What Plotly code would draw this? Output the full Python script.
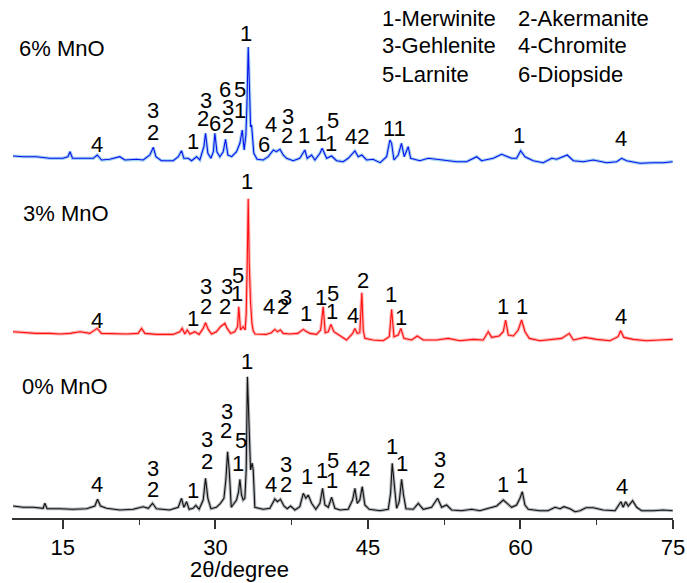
import plotly.graph_objects as go

# ---------------- data (2theta in degrees, relative intensity in a.u.) ----------------
theta0 = [10.1, 11.1, 12.1, 13.06, 13.23, 13.45, 14.7, 16.0, 17.33, 18.15,
          18.41, 18.7, 19.3, 20.6, 21.9, 22.9, 23.4, 23.82, 24.2, 25.5,
          26.35, 26.67, 26.9, 27.17, 27.42, 27.8, 28.08, 28.4, 28.8, 29.03,
          29.26, 29.56, 30.1, 30.5, 30.84, 31.03, 31.2, 31.36, 31.56, 31.8,
          32.08, 32.28, 32.41, 32.57, 32.73, 32.9, 33.03, 33.15, 33.36, 33.46,
          33.62, 33.72, 33.88, 34.7, 35.36, 35.85, 36.1, 36.4, 36.74, 37.06,
          37.4, 37.82, 38.3, 38.64, 38.9, 39.13, 39.46, 39.88, 40.28, 40.54,
          40.77, 41.1, 41.43, 41.75, 42.25, 43.06, 43.49, 43.72, 43.95, 44.2,
          44.44, 44.7, 45.13, 46.18, 47.0, 47.23, 47.39, 47.58, 47.82, 48.08,
          48.31, 48.5, 48.74, 49.46, 49.95, 50.44, 51.26, 51.85, 52.25, 52.74,
          53.23, 54.2, 55.2, 56.0, 56.83, 57.66, 58.31, 58.64, 59.13, 59.62,
          59.95, 60.18, 60.44, 60.77, 61.9, 62.7, 63.4, 63.9, 64.28, 64.87,
          65.36, 65.85, 66.44, 67.16, 68.14, 69.3, 69.88, 70.1, 70.34, 70.6,
          71.03, 71.43, 71.92, 73.06, 74.04, 74.97]
int0 = [4, 2.7, 2.7, 1.7, 6.7, 1.3, 1.3, 0.7, 1.3, 4,
        10.7, 4, 1.7, 0, 0.7, 3.3, 1.7, 6.7, 1.3, 0,
        2.7, 11.7, 2.7, 8.3, 0.7, 1.7, 4.7, 0.7, 10, 31.7,
        11.7, 1.3, 2.7, 6.7, 11.7, 30, 58.3, 40, 2.7, 6.7,
        10, 18.3, 30.7, 15, 10, 11.7, 40, 133.3, 60, 40,
        47, 40, 2.7, 0.7, 1.7, 11, 8.3, 10.7, 4, 1.3,
        4, 0, 3.3, 16.7, 11.7, 15, 6.7, 0.7, 6.7, 21.7,
        5, 2.7, 12.7, 1.7, 0, 0.7, 10, 21.7, 6.7, 10,
        23.3, 5, 0.7, -0.7, 0.7, 16.7, 46.7, 23.3, 1.7, 8.3,
        30.7, 15, 1.3, 0.7, 6.7, 0.7, 2.7, 11.7, 2.7, 5,
        0, -0.7, 0.7, -0.7, 1.7, 4, 10, 7.3, 2.7, 5,
        11.7, 18.3, 5, 0.7, -0.7, -0.7, 2.7, 1.3, 3.3, 1.3,
        -1.7, -0.7, 2.3, 2.3, 0, -0.7, 8.3, 2.7, 8.3, 4,
        9.3, 2.7, -0.7, -0.7, 0, -0.7]

theta3 = [10.1, 11.1, 12.4, 13.7, 14.7, 15.7, 16.7, 17.65, 18.38, 18.8,
          19.95, 21.26, 22.4, 22.74, 23.07, 24.2, 25.85, 26.5, 26.73, 27.0,
          27.23, 27.5, 27.98, 28.4, 28.8, 29.03, 29.3, 29.62, 30.1, 30.5,
          30.93, 31.16, 31.5, 31.9, 32.18, 32.3, 32.47, 32.73, 32.93, 33.03,
          33.13, 33.23, 33.33, 33.46, 33.6, 33.72, 33.9, 35.0, 35.5, 35.85,
          36.1, 36.4, 36.67, 37.3, 38.1, 38.64, 38.97, 39.3, 39.95, 40.35,
          40.6, 40.8, 41.1, 41.36, 41.65, 42.25, 42.9, 43.5, 43.72, 43.95,
          44.2, 44.4, 44.54, 44.7, 45.5, 46.5, 47.1, 47.33, 47.56, 47.98,
          48.24, 48.54, 49.3, 49.85, 50.44, 51.75, 52.9, 54.05, 55.36, 56.34,
          56.83, 57.17, 57.9, 58.31, 58.54, 58.8, 59.3, 59.78, 60.11, 60.44,
          60.87, 61.92, 63.23, 64.05, 64.8, 65.2, 66.34, 67.5, 68.8, 69.6,
          69.85, 70.17, 71.1, 72.4, 73.7, 74.97]
int3 = [10, 9, 8.3, 8.3, 7.7, 8.3, 10, 8.3, 13.3, 8.3,
        7.7, 7.7, 8.3, 13.3, 8.3, 7.3, 7.3, 10, 13.3, 7.7,
        11.7, 7.7, 10, 7.3, 13.3, 19, 12.3, 7.7, 10, 15,
        18.3, 13.3, 8.3, 10, 15, 35, 11.7, 15, 11.7, 28,
        78, 143, 78, 38, 18, 11, 7.7, 7.3, 9, 12.3,
        10, 11.7, 8.3, 7.7, 8.3, 12.3, 10, 8.3, 7.3, 11.7,
        35, 9, 10, 17.3, 10, 6, 1.7, 8.3, 13.3, 8.3,
        9, 49, 11.7, 3.3, 1.7, 1, 5, 32.3, 5, 6.7,
        13.3, 3.3, 1.7, 5.7, 1.7, 1.7, 3.3, 1, 2.3, 1.7,
        10, 4.3, 5.7, 10, 21.7, 6.7, 5.7, 11.7, 21.7, 10,
        3.3, 1, 2.3, 3.3, 8.3, 1.7, 4.3, 2.3, 1, 5,
        11, 4.3, 2.3, 1, 1.7, 2.3]

theta6 = [10.1, 11.1, 12.4, 13.7, 15.0, 15.5, 15.7, 15.95, 17.0, 18.0,
          18.38, 18.8, 19.6, 20.6, 21.1, 22.25, 22.9, 23.56, 23.9, 24.15,
          24.7, 25.85, 26.35, 26.67, 26.9, 27.33, 27.66, 28.15, 28.47, 28.87,
          29.03, 29.26, 29.56, 29.8, 29.95, 30.15, 30.44, 30.77, 31.0, 31.23,
          31.6, 32.08, 32.41, 32.64, 32.83, 33.0, 33.1, 33.23, 33.36, 33.46,
          33.56, 33.78, 34.1, 34.7, 35.2, 35.7, 36.0, 36.35, 36.67, 37.0,
          37.65, 38.3, 38.8, 39.03, 39.46, 39.79, 40.28, 40.5, 40.94, 41.43,
          41.92, 42.57, 43.06, 43.72, 44.05, 44.4, 44.87, 45.5, 46.2, 46.84,
          47.16, 47.33, 47.56, 47.98, 48.3, 48.57, 48.96, 49.2, 50.1, 50.93,
          51.75, 52.74, 53.72, 54.7, 55.7, 56.18, 57.33, 58.15, 59.13, 59.62,
          60.02, 60.44, 61.26, 62.24, 63.07, 63.56, 64.6, 65.2, 66.18, 67.16,
          68.48, 69.46, 69.95, 70.44, 71.75, 73.06, 74.04, 74.97]
int6 = [9, 8.3, 8.3, 6.7, 6.7, 8.3, 13.3, 6.7, 6.7, 6.7,
        10, 5, 5.7, 8.3, 5, 5.7, 5, 10, 17.7, 8.3,
        4.3, 4.3, 8.3, 14.3, 6.7, 6.7, 4.3, 8.3, 5, 18.3,
        31.7, 11.7, 6.7, 13.3, 31.7, 13.3, 8.3, 13.3, 25.7, 10,
        8.3, 13.3, 21.7, 35, 15, 30, 60, 118, 75, 38,
        40, 11.7, 5.7, 5, 8.3, 15, 13.3, 15.7, 10, 6.7,
        4.3, 6.7, 15, 6.7, 10, 5, 11.7, 16.7, 6.7, 9,
        4.3, 3.3, 6.7, 14, 8.3, 10, 5, 5.7, 2.3, 8.3,
        25, 21.7, 5, 10, 21.7, 8.3, 18.3, 6.7, 4.3, 6.7,
        5.7, 4.3, 3.3, 3.3, 8.3, 4.3, 6.7, 10.7, 6.7, 6.7,
        14.3, 8.3, 4.3, 2.3, 6.7, 5.7, 10, 4.3, 3.3, 5,
        2.3, 3.3, 6.7, 4.3, 1.7, 2.3, 2.3, 3.3]

sample_names = ["0% MnO", "3% MnO", "6% MnO"]
phase_legend = ["1-Merwinite", "2-Akermanite", "3-Gehlenite",
                "4-Chromite", "5-Larnite", "6-Diopside"]
x_ticks = [15, 30, 45, 60, 75]
x_title = "2θ/degree"

# ---------------- style / layout ----------------
offsets = {"0% MnO": 8, "3% MnO": 176.3, "6% MnO": 353}
core_colors = {"0% MnO": "#111111", "3% MnO": "#ff1010", "6% MnO": "#1010ee"}
halo_colors = {"0% MnO": "#b4b8bc", "3% MnO": "#ffb4b4", "6% MnO": "#9ed2f0"}
FONT = "Liberation Sans, Arial, Helvetica, sans-serif"
FS = 22

series = {"0% MnO": (theta0, int0), "3% MnO": (theta3, int3), "6% MnO": (theta6, int6)}

fig = go.Figure()
for name in ["0% MnO", "3% MnO", "6% MnO"]:
    th, it = series[name]
    yy = [v + offsets[name] for v in it]
    fig.add_trace(go.Scatter(x=th, y=yy, mode="lines", showlegend=False,
                             line=dict(color=halo_colors[name], width=3.2), hoverinfo="skip"))
    fig.add_trace(go.Scatter(x=th, y=yy, mode="lines", showlegend=False, name=name,
                             line=dict(color=core_colors[name], width=1.1)))

# peak labels: (text, 2theta, y)
peak_labels = [
    # 6% MnO
    ("1", 33.01, 484.7), ("6", 30.97, 428.7), ("5", 32.42, 428.7),
    ("3", 29.08, 418), ("2", 28.81, 399.7), ("6", 29.96, 394.7),
    ("3", 31.21, 410.3), ("2", 31.21, 393), ("1", 32.42, 408),
    ("3", 23.83, 408), ("2", 23.83, 385.3), ("4", 18.39, 374), ("1", 27.83, 376.3),
    ("4", 35.44, 394), ("6", 34.81, 374), ("3", 37.17, 402), ("2", 37.01, 383),
    ("1", 38.71, 383), ("1", 40.35, 384.7), ("5", 41.53, 398), ("1", 41.34, 374.7),
    ("42", 43.95, 381.3), ("11", 47.66, 389.7), ("1", 59.85, 383), ("4", 69.85, 379.7),
    # 3% MnO
    ("1", 33.14, 336.3), ("5", 32.25, 243), ("1", 32.15, 224.7),
    ("3", 29.08, 231.3), ("2", 29.08, 211.3), ("3", 31.11, 231.3), ("2", 30.94, 211.3),
    ("1", 27.83, 199.7), ("4", 18.39, 198), ("4", 35.3, 211.3), ("3", 36.91, 220.3),
    ("2", 36.68, 211.3), ("1", 38.88, 204.7), ("1", 40.35, 220.3), ("5", 41.59, 224.7),
    ("1", 41.44, 206.3), ("4", 43.56, 203), ("2", 44.54, 238), ("1", 47.27, 224),
    ("1", 48.25, 200.3), ("1", 58.25, 211.3), ("1", 60.12, 212), ("4", 69.85, 201.3),
    # 0% MnO
    ("1", 33.14, 156.3), ("3", 31.11, 106.3), ("2", 31.04, 87.3),
    ("5", 32.49, 78), ("1", 32.19, 54.7), ("3", 29.2, 78.7), ("2", 29.14, 56.3),
    ("1", 27.83, 28), ("3", 23.83, 49.7), ("2", 23.83, 28.7), ("4", 18.39, 34),
    ("4", 35.44, 34), ("3", 36.94, 54), ("2", 36.94, 34), ("1", 38.98, 41.3),
    ("1", 40.45, 47.3), ("5", 41.59, 57.3), ("1", 41.44, 38), ("42", 44.05, 49.7),
    ("1", 47.34, 72), ("1", 48.32, 54.7), ("3", 52.08, 58.7), ("2", 52.02, 37.3),
    ("1", 58.25, 34), ("1", 60.12, 43), ("4", 70.01, 31.3),
]

annotations = []
for txt, x, y in peak_labels:
    annotations.append(dict(x=x, y=y, xref="x", yref="y", text=txt, showarrow=False,
                            xanchor="center", yanchor="middle", borderpad=0,
                            font=dict(family=FONT, size=FS, color="black")))

name_pos = {"6% MnO": (10.59, 469.7), "3% MnO": (10.95, 304.7), "0% MnO": (10.86, 131.3)}
for nm in sample_names:
    x, y = name_pos[nm]
    annotations.append(dict(x=x, y=y, xref="x", yref="y", text=nm, showarrow=False,
                            xanchor="left", yanchor="middle", borderpad=0,
                            font=dict(family=FONT, size=FS, color="black")))

leg_x = [46.25, 59.63]
leg_y = [499.7, 472.5, 444]
for i, t in enumerate(phase_legend):
    annotations.append(dict(x=leg_x[i % 2], y=leg_y[i // 2], xref="x", yref="y", text=t,
                            showarrow=False, xanchor="left", yanchor="middle", borderpad=0,
                            font=dict(family=FONT, size=FS, color="black")))

PLOT_H = 518
annotations.append(dict(x=32.42, y=-51 / PLOT_H, xref="x", yref="paper", text=x_title,
                        showarrow=False, xanchor="center", yanchor="middle",
                        font=dict(family=FONT, size=FS, color="black")))

fig.update_layout(
    width=687, height=583,
    margin=dict(l=12, r=14, t=0, b=583 - PLOT_H),
    paper_bgcolor="white", plot_bgcolor="white",
    annotations=annotations,
    hovermode=False,
    xaxis=dict(range=[10, 75], tickvals=x_ticks, ticktext=[str(v) for v in x_ticks],
               showline=True, linecolor="#333333", linewidth=2,
               ticks="outside", ticklen=9, tickwidth=1.5, tickcolor="#333333",
               showgrid=False, zeroline=False,
               tickfont=dict(family=FONT, size=FS, color="black"),
               minor=dict(tick0=7.5, dtick=15, ticks="outside", ticklen=5,
                          tickwidth=1.2, tickcolor="#333333", showgrid=False)),
    yaxis=dict(range=[0, PLOT_H], visible=False, showgrid=False, zeroline=False),
)

# remove the browser's default 8px body margin so the figure sits at the page origin
fig.write_html("out.html", config={"displayModeBar": False},
               post_script="document.body.style.margin='0';document.body.style.overflow='hidden';")
